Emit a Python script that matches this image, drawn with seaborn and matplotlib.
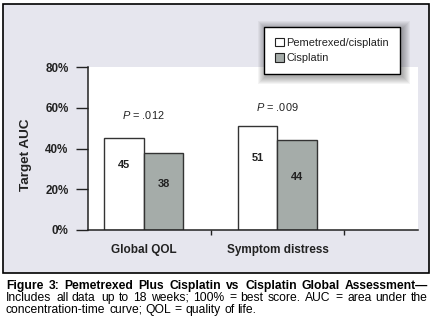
import math
import matplotlib
matplotlib.use("Agg")
import matplotlib.pyplot as plt
from matplotlib.patches import Rectangle, Patch
import pandas as pd
import seaborn as sns

# ---- data -------------------------------------------------------------
measures = ["Global QOL", "Symptom distress"]
arms = ["Pemetrexed/cisplatin", "Cisplatin"]
combo_auc = [45, 51]
cisplatin_auc = [38, 44]
p_values = [".012", ".009"]
y_ticks = [0, 20, 40, 60, 80]
y_tick_labels = ["0%", "20%", "40%", "60%", "80%"]
caption_lines = [
    "Figure 3: Pemetrexed Plus Cisplatin vs Cisplatin Global Assessment\u2014",
    "Includes all data up to 18 weeks; 100% = best score. AUC = area under the",
    "concentration-time curve; QOL = quality of life.",
]

df = pd.DataFrame({
    "measure": measures * 2,
    "arm": [arms[0]] * len(measures) + [arms[1]] * len(measures),
    "auc": combo_auc + cisplatin_auc,
})

# ---- style ------------------------------------------------------------
W, H = 433, 324
PANEL_BG = "#e6e6ee"
WHITE = "#ffffff"
GRAY = "#a5aca9"
EDGE = "#333333"
CAPTION_SIZE = 8.7

sns.set_theme(style="white")
plt.rcParams["font.family"] = ["Liberation Sans", "DejaVu Sans"]
plt.rcParams["mathtext.fontset"] = "custom"
plt.rcParams["mathtext.it"] = "Liberation Sans:italic"
plt.rcParams["mathtext.rm"] = "Liberation Sans"

fig = plt.figure(figsize=(W / 100, H / 100), dpi=100, facecolor="white")


def fx(px):
    return px / W


def fy(py):
    return 1 - py / H


# grey framed panel behind the chart
fig.patches.append(Rectangle((fx(3), fy(273)), fx(426), 269 / H,
                             transform=fig.transFigure, facecolor=PANEL_BG,
                             edgecolor="black", linewidth=1.2, zorder=-2))

ax = fig.add_axes([fx(88), fy(230), 330 / W, 163 / H])
ax.set_facecolor("white")

sns.barplot(data=df, x="measure", y="auc", hue="arm", order=measures,
            hue_order=arms, palette=[WHITE, GRAY], saturation=1,
            width=0.59, gap=0, edgecolor=EDGE, linewidth=1.0,
            legend=False, ax=ax)

ax.set_xlim(-0.416, 2.05)
ax.set_ylim(0, 80)

for side in ("top", "right"):
    ax.spines[side].set_visible(False)
for side in ("left", "bottom"):
    ax.spines[side].set_color("#222222")
    ax.spines[side].set_linewidth(1.1)
ax.spines["bottom"].set_zorder(5)

ax.set_yticks(y_ticks)
ax.set_yticklabels(y_tick_labels, fontsize=8.4, fontweight="bold", color="#222222")
ax.tick_params(axis="y", direction="out", length=8.6, width=1.0,
               color="#222222", pad=5.5, left=True)
ax.set_xticks(range(len(measures)))
ax.set_xticklabels(measures, fontsize=8.5, fontweight="bold", color="#222222")
ax.tick_params(axis="x", which="major", length=0, pad=10)
ax.set_xticks([0.5, 1.5], minor=True)
ax.tick_params(axis="x", which="minor", direction="out", length=3.6,
               width=1.0, color="#222222", bottom=True)
ax.set_xlabel("")
ax.set_ylabel("")

fig.text(fx(26), fy(155), "Target AUC", rotation=90, ha="center", va="center",
         fontsize=9.7, fontweight="bold", color="#222222")

# value labels inside the bars
label_drop = [[19.5, 23.0], [22.5, 26.5]]
for ci, cont in enumerate(ax.containers):
    for bi, bar in enumerate(cont):
        ax.annotate(f"{bar.get_height():.0f}",
                    (bar.get_x() + bar.get_width() / 2, bar.get_height()),
                    xytext=(0, -label_drop[ci][bi]), textcoords="offset points",
                    ha="center", va="center", fontsize=7.9,
                    fontweight="bold", color="#222222")

# significance annotations
p_heights = [56.6, 60.6]
for i, p in enumerate(p_values):
    ax.text(i, p_heights[i], r"$\it{P}$ = " + p, ha="center", va="center",
            fontsize=7.9, color="#222222")

# legend with a soft drop shadow
handles = [Patch(facecolor=c, edgecolor="#222222", linewidth=0.8, label=a)
           for c, a in zip([WHITE, GRAY], arms)]
leg = fig.legend(handles=handles, loc="upper left",
                 bbox_to_anchor=(fx(264), fy(27)), frameon=True,
                 fancybox=False, edgecolor="black", framealpha=1,
                 fontsize=7.9, handlelength=0.8, handleheight=0.8,
                 handletextpad=0.25, borderpad=1.0, labelspacing=0.5,
                 borderaxespad=0)
leg.get_frame().set_linewidth(1.0)
leg.set_zorder(6)
for t in leg.get_texts():
    t.set_color("#222222")

fig.canvas.draw()
renderer = fig.canvas.get_renderer()
bb = leg.get_window_extent(renderer)
for k in range(1, 9):
    fig.patches.append(Rectangle(
        ((bb.x0 - k + 2) / W, (bb.y0 - k - 2) / H),
        (bb.width + 2 * k) / W, (bb.height + 2 * k) / H,
        transform=fig.transFigure, facecolor="black", edgecolor="none",
        alpha=0.045, zorder=4))


# caption below the panel, set word by word as a justified text column
def caption_line(text, baseline_px, weight, justify, left=6, right=428):
    words = text.split()
    texts = [fig.text(0, 0, w, fontsize=CAPTION_SIZE, fontweight=weight,
                      ha="left", va="baseline", color="black") for w in words]
    widths = [t.get_window_extent(renderer).width for t in texts]
    probe = fig.text(0, 0, "a a", fontsize=CAPTION_SIZE, fontweight=weight)
    probe2 = fig.text(0, 0, "aa", fontsize=CAPTION_SIZE, fontweight=weight)
    gap = (probe.get_window_extent(renderer).width
           - probe2.get_window_extent(renderer).width)
    probe.remove()
    probe2.remove()
    if justify and len(words) > 1:
        gap = (right - left - sum(widths)) / (len(words) - 1)
    x = left
    for t, w, word in zip(texts, widths, words):
        # keep every word on the same pixel baseline
        _, _, d = renderer.get_text_width_height_descent(
            word, t.get_fontproperties(), ismath=False)
        t.set_position((fx(round(x)), fy(baseline_px - (d - math.floor(d)))))
        x += w + gap


caption_line(caption_lines[0], 289.05, "bold", True)
caption_line(caption_lines[1], 301.05, "normal", True)
caption_line(caption_lines[2], 313.05, "normal", False)

fig.savefig("out.png", dpi=100, facecolor="white")
